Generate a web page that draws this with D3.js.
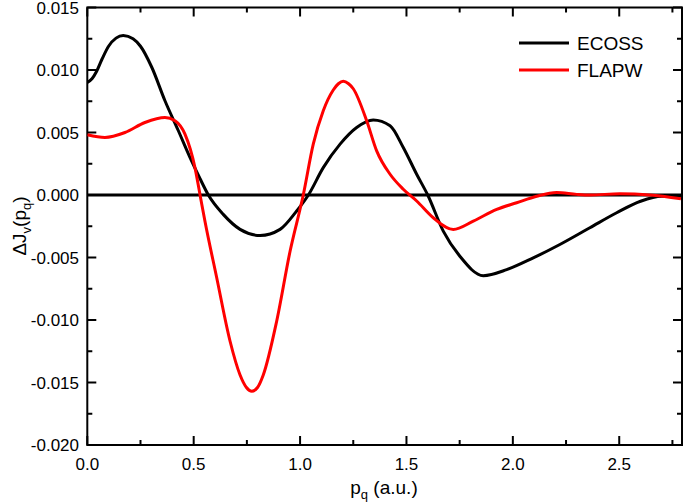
<!DOCTYPE html>
<html><head><meta charset="utf-8">
<script src="https://cdn.jsdelivr.net/npm/d3@7"></script>
<style>body{margin:0;background:#fff}svg{display:block;font-family:"Liberation Sans",Arial,sans-serif}</style>
</head><body><svg id="c" width="685" height="503"></svg>
<script>
const ecossX = [0, 0.022, 0.044, 0.070, 0.100, 0.135, 0.169, 0.215, 0.250, 0.303, 0.365, 0.428, 0.490, 0.530, 0.569, 0.639, 0.718, 0.812, 0.906, 0.984, 1.039, 1.109, 1.188, 1.266, 1.344, 1.423, 1.485, 1.548, 1.600, 1.673, 1.751, 1.861, 1.971, 2.096, 2.221, 2.362, 2.488, 2.600, 2.700, 2.790];
const ecossY = [0.0090, 0.0093, 0.0099, 0.0109, 0.0119, 0.01255, 0.01276, 0.0125, 0.0119, 0.01022, 0.00754, 0.00514, 0.00273, 0.0013, 0.0, -0.00155, -0.00275, -0.00324, -0.00275, -0.00128, 0.0, 0.00219, 0.00407, 0.0054, 0.0060, 0.00554, 0.0038, 0.00166, 0.0, -0.00289, -0.0049, -0.00645, -0.00597, -0.00503, -0.00396, -0.00262, -0.00142, -0.0005, -0.0001, -0.0001];
const flapwX = [0, 0.083, 0.177, 0.271, 0.365, 0.412, 0.459, 0.506, 0.530, 0.553, 0.608, 0.671, 0.718, 0.748, 0.773, 0.800, 0.827, 0.890, 0.953, 1.015, 1.062, 1.109, 1.156, 1.180, 1.203, 1.228, 1.250, 1.313, 1.360, 1.423, 1.485, 1.548, 1.626, 1.720, 1.814, 1.924, 2.018, 2.112, 2.206, 2.300, 2.362, 2.503, 2.644, 2.790];
const flapwY = [0.00482, 0.0046, 0.0050, 0.0058, 0.0062, 0.00594, 0.00487, 0.00219, 0.0, -0.0021, -0.0066, -0.0117, -0.0144, -0.0154, -0.0157, -0.0154, -0.0144, -0.0101, -0.0045, 0.0, 0.00407, 0.00674, 0.0084, 0.0089, 0.0091, 0.0089, 0.0085, 0.00594, 0.00353, 0.00166, 0.00046, -0.00048, -0.00182, -0.00275, -0.00209, -0.00115, -0.00062, -0.0001, 0.0002, 0.00005, 0.0, 0.0001, 0.0, -0.0003];
const seriesNames = ["ECOSS", "FLAPW"];
const seriesColors = ["#000000", "#ff0000"];
const xTicks = [0, 0.5, 1.0, 1.5, 2.0, 2.5];
const yTicks = [-0.020, -0.015, -0.010, -0.005, 0.000, 0.005, 0.010, 0.015];

const svg = d3.select("#c");
const L = 87.3, R = 682, T = 7.5, B = 445;
const x = d3.scaleLinear().domain([0, 2.795]).range([L, R]);
const y = d3.scaleLinear().domain([-0.020, 0.015]).range([B, T]);

const xMinor = d3.range(0, 2.8, 0.25);
const yMinor = d3.range(-0.020, 0.0151, 0.0025);

const g = svg.append("g");
g.append("rect").attr("x", L).attr("y", T).attr("width", R - L).attr("height", B - T)
  .attr("fill", "none").attr("stroke", "#000").attr("stroke-width", 2);

xMinor.forEach(v => {
  const major = Math.abs(v / 0.5 - Math.round(v / 0.5)) < 1e-6;
  const len = major ? 9 : 5;
  g.append("line").attr("x1", x(v)).attr("x2", x(v)).attr("y1", B).attr("y2", B - len).attr("stroke", "#000").attr("stroke-width", 2);
  g.append("line").attr("x1", x(v)).attr("x2", x(v)).attr("y1", T).attr("y2", T + len).attr("stroke", "#000").attr("stroke-width", 2);
});
yMinor.forEach(v => {
  const major = Math.abs(v / 0.005 - Math.round(v / 0.005)) < 1e-6;
  const len = major ? 9 : 5;
  g.append("line").attr("y1", y(v)).attr("y2", y(v)).attr("x1", L).attr("x2", L + len).attr("stroke", "#000").attr("stroke-width", 2);
  g.append("line").attr("y1", y(v)).attr("y2", y(v)).attr("x1", R).attr("x2", R - len).attr("stroke", "#000").attr("stroke-width", 2);
});

g.selectAll(".xl").data(xTicks).enter().append("text")
  .attr("x", d => x(d)).attr("y", 470).attr("text-anchor", "middle")
  .attr("font-size", 17).text(d => d3.format(".1f")(d));
g.selectAll(".yl").data(yTicks).enter().append("text")
  .attr("x", 79).attr("y", d => y(d) + 6).attr("text-anchor", "end")
  .attr("font-size", 17).text(d => d3.format(".3f")(d).replace("−", "-"));

const xt = g.append("text").attr("x", 384).attr("y", 494).attr("text-anchor", "middle").attr("font-size", 19);
xt.append("tspan").text("p");
xt.append("tspan").attr("font-size", 13).attr("dy", 5).text("q");
xt.append("tspan").attr("dy", -5).text(" (a.u.)");

const yt = g.append("text").attr("transform", "translate(26,226) rotate(-90)").attr("text-anchor", "middle").attr("font-size", 19);
yt.append("tspan").text("ΔJ");
yt.append("tspan").attr("font-size", 13).attr("dy", 5).text("v");
yt.append("tspan").attr("dy", -5).text("(p");
yt.append("tspan").attr("font-size", 13).attr("dy", 5).text("q");
yt.append("tspan").attr("dy", -5).text(")");

g.append("line").attr("x1", L).attr("x2", R).attr("y1", y(0)).attr("y2", y(0)).attr("stroke", "#000").attr("stroke-width", 3);

const line = d3.line().x(d => x(d[0])).y(d => y(d[1])).curve(d3.curveMonotoneX);
svg.append("clipPath").attr("id", "pc").append("rect").attr("x", L).attr("y", T).attr("width", R - L).attr("height", B - T);
const datasets = [d3.zip(ecossX, ecossY), d3.zip(flapwX, flapwY)];
datasets.forEach((d, i) => {
  g.append("path").datum(d).attr("d", line).attr("fill", "none")
    .attr("stroke", seriesColors[i]).attr("stroke-width", 3).attr("stroke-linejoin", "round").attr("clip-path", "url(#pc)");
});

seriesNames.forEach((n, i) => {
  const ly = 43 + i * 27;
  g.append("line").attr("x1", 519).attr("x2", 569).attr("y1", ly).attr("y2", ly).attr("stroke", seriesColors[i]).attr("stroke-width", 3);
  g.append("text").attr("x", 577).attr("y", ly + 7).attr("font-size", 19).text(n);
});
</script></body></html>
